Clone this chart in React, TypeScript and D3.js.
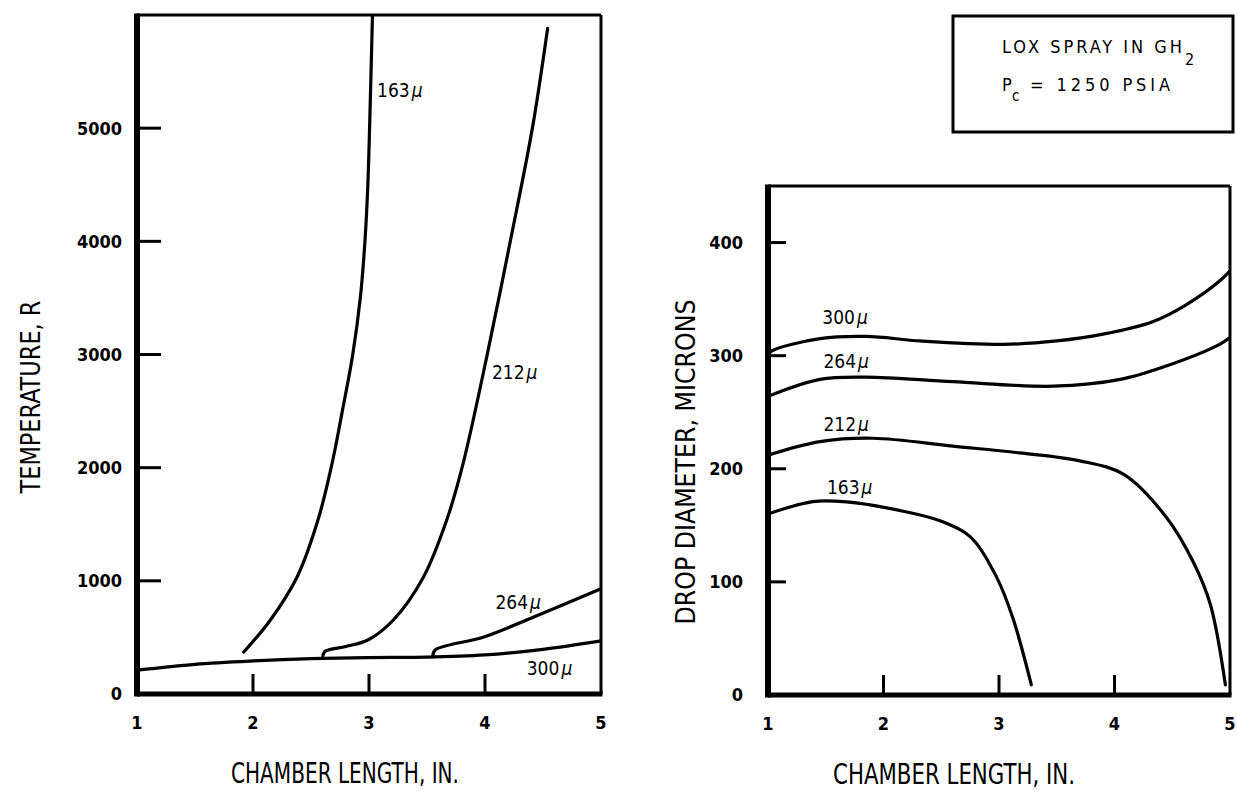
import React from "react";
import * as d3 from "d3";

// ---------- data ----------
const xTicks = [1, 2, 3, 4, 5];
const leftYTicks = [0, 1000, 2000, 3000, 4000, 5000];
const rightYTicks = [0, 100, 200, 300, 400];

// Left panel: temperature (R) vs chamber length (in)
const tempX163 = [1.92, 2.15, 2.38, 2.56, 2.68, 2.77, 2.86, 2.925, 2.965, 2.99, 3.005, 3.03];
const tempY163 = [371, 654, 1034, 1537, 2030, 2500, 3000, 3500, 4000, 4500, 5000, 6000];
const tempX212 = [2.6, 2.62, 2.8, 2.99, 3.21, 3.47, 3.67, 3.81, 4.02, 4.22, 4.41, 4.54];
const tempY212 = [325, 375, 420, 477, 654, 1034, 1537, 2032, 3004, 4011, 5009, 5883];
const tempX264 = [3.55, 3.57, 3.99, 4.42, 5.0];
const tempY264 = [330, 389, 504, 680, 930];
const tempX300 = [1.0, 1.5, 2.0, 2.5, 3.0, 3.5, 4.0, 4.5, 5.0];
const tempY300 = [210, 262, 292, 312, 322, 325, 345, 395, 470];

// Right panel: drop diameter (microns) vs chamber length (in)
const diaX300 = [1.0, 1.03, 1.45, 1.85, 2.32, 3.04, 3.5, 3.9, 4.33, 4.62, 4.91, 5.0];
const diaY300 = [300, 304, 315, 317, 313, 310, 313, 319, 330, 345, 366, 375];
const diaX264 = [1.0, 1.45, 1.85, 2.6, 3.47, 4.05, 4.48, 4.91, 5.0];
const diaY264 = [264, 279, 281, 277, 273, 279, 292, 310, 316];
const diaX212 = [1.0, 1.45, 1.91, 2.6, 3.18, 3.7, 4.08, 4.45, 4.68, 4.83, 4.96];
const diaY212 = [212, 224, 227, 220, 214, 207, 195, 157, 118, 80, 9];
const diaX163 = [1.0, 1.39, 1.68, 2.17, 2.49, 2.75, 2.98, 3.12, 3.28];
const diaY163 = [160, 171, 170.7, 162.5, 154, 140, 104, 68, 9];

const seriesNames = ["163", "212", "264", "300"];
// label anchor positions (data coords)
const leftLabelX = [3.07, 4.06, 4.09, 4.36];
const leftLabelY = [5275, 2783, 751, 168];
const rightLabelX = [1.51, 1.48, 1.48, 1.47];
const rightLabelY = [178, 233, 289, 328];

const xLabel = "CHAMBER LENGTH, IN.";
const leftYLabel = "TEMPERATURE, R";
const rightYLabel = "DROP DIAMETER, MICRONS";

const FONT = "'DejaVu Sans Condensed', 'Liberation Sans Narrow', 'DejaVu Sans', sans-serif";

type Pt = [number, number];
const zip = (xs: number[], ys: number[]): Pt[] => xs.map((x, i) => [x, ys[i]]);

function Panel(props: {
  x0: number; x1: number; y0: number; y1: number;
  yMax: number; yTicks: number[]; tickLen: number;
  series: Pt[][]; labelX: number[]; labelY: number[];
  yLabel: string; yLabelX: number; yLabelLen: number; yLabelCenter: number;
  tickLabelRight: number; xTitleCenter: number; xTitleLen: number; clipId: string;
}) {
  const { x0, x1, y0, y1, yMax } = props;
  const xs = d3.scaleLinear().domain([1, 5]).range([x0, x1]);
  const ys = d3.scaleLinear().domain([0, yMax]).range([y1, y0]);
  const line = d3.line<Pt>().x(d => xs(d[0])).y(d => ys(d[1])).curve(d3.curveCatmullRom.alpha(0.5));
  return (
    <g>
      <defs>
        <clipPath id={props.clipId}>
          <rect x={x0} y={y0} width={x1 - x0} height={y1 - y0} />
        </clipPath>
      </defs>
      {/* curves */}
      <g clipPath={`url(#${props.clipId})`}>
        {props.series.map((s, i) => (
          <path key={i} d={line(s) || ""} fill="none" stroke="#000" strokeWidth={3.2} strokeLinecap="round" strokeLinejoin="round" />
        ))}
      </g>
      {/* frame */}
      <line x1={x0} y1={y0} x2={x1} y2={y0} stroke="#000" strokeWidth={3} />
      <line x1={x1} y1={y0} x2={x1} y2={y1} stroke="#000" strokeWidth={3} />
      <line x1={x0} y1={y0 - 1.5} x2={x0} y2={y1 + 2.5} stroke="#000" strokeWidth={6} />
      <line x1={x0} y1={y1} x2={x1 + 1.5} y2={y1} stroke="#000" strokeWidth={5} />
      {/* y ticks */}
      {props.yTicks.map(t => (
        <g key={t}>
          {t > 0 && (
            <line x1={x0} x2={x0 + props.tickLen} y1={ys(t)} y2={ys(t)} stroke="#000" strokeWidth={3} />
          )}
          <text x={props.tickLabelRight} y={ys(t)} dy="0.36em" textAnchor="end"
            fontFamily={FONT} fontSize={18} fontWeight="bold">{t}</text>
        </g>
      ))}
      {/* x ticks */}
      {xTicks.map(t => (
        <g key={t}>
          {t > 1 && t < 5 && (
            <line x1={xs(t)} x2={xs(t)} y1={y1} y2={y1 - 20} stroke="#000" strokeWidth={3} />
          )}
          <text x={xs(t)} y={y1 + 29} dy="0.36em" textAnchor="middle"
            fontFamily={FONT} fontSize={18} fontWeight="bold">{t}</text>
        </g>
      ))}
      {/* curve labels */}
      {seriesNames.map((n, i) => (
        <text key={n} x={xs(props.labelX[i])} y={ys(props.labelY[i])}
          fontFamily={FONT} fontSize={19}>
          {n}<tspan fontStyle="italic" dx={2}>μ</tspan>
        </text>
      ))}
      {/* axis titles */}
      <text x={props.xTitleCenter} y={y1 + 79} dy="0.36em" textAnchor="middle"
        fontFamily={FONT} fontSize={29} textLength={props.xTitleLen} lengthAdjust="spacingAndGlyphs">
        {xLabel}
      </text>
      <text transform={`translate(${props.yLabelX},${props.yLabelCenter}) rotate(-90)`}
        textAnchor="middle" dy="0.36em" fontFamily={FONT} fontSize={27}
        textLength={props.yLabelLen} lengthAdjust="spacingAndGlyphs">
        {props.yLabel}
      </text>
    </g>
  );
}

export default function App() {
  const leftSeries = [zip(tempX163, tempY163), zip(tempX212, tempY212), zip(tempX264, tempY264), zip(tempX300, tempY300)];
  const rightSeries = [zip(diaX163, diaY163), zip(diaX212, diaY212), zip(diaX264, diaY264), zip(diaX300, diaY300)];
  return (
    <svg width={1237} height={791} style={{ position: "absolute", left: 0, top: 0, background: "#fff" }}>
      <rect width={1237} height={791} fill="#fff" />
      <Panel x0={137} x1={601} y0={15} y1={694} yMax={6000} yTicks={leftYTicks} tickLen={24}
        series={leftSeries} labelX={leftLabelX} labelY={leftLabelY}
        yLabel={leftYLabel} yLabelX={30} yLabelLen={193} yLabelCenter={397}
        tickLabelRight={122} xTitleCenter={345} xTitleLen={228} clipId="clipL" />
      <Panel x0={768} x1={1230} y0={186} y1={695} yMax={450} yTicks={rightYTicks} tickLen={18}
        series={rightSeries} labelX={rightLabelX} labelY={rightLabelY}
        yLabel={rightYLabel} yLabelX={685} yLabelLen={325} yLabelCenter={462}
        tickLabelRight={743} xTitleCenter={954} xTitleLen={242} clipId="clipR" />
      {/* legend box */}
      <rect x={953} y={16} width={280} height={116} fill="none" stroke="#000" strokeWidth={3} />
      <text x={1002} y={53} fontFamily={FONT} fontSize={18} textLength={180} lengthAdjust="spacing">LOX SPRAY IN GH</text>
      <text x={1185} y={65} fontFamily={FONT} fontSize={16}>2</text>
      <text x={1002} y={91} fontFamily={FONT} fontSize={18}>P</text>
      <text x={1012} y={101} fontFamily={FONT} fontSize={15}>c</text>
      <text x={1030} y={91} fontFamily={FONT} fontSize={18} textLength={140} lengthAdjust="spacing">= 1250 PSIA</text>
    </svg>
  );
}
